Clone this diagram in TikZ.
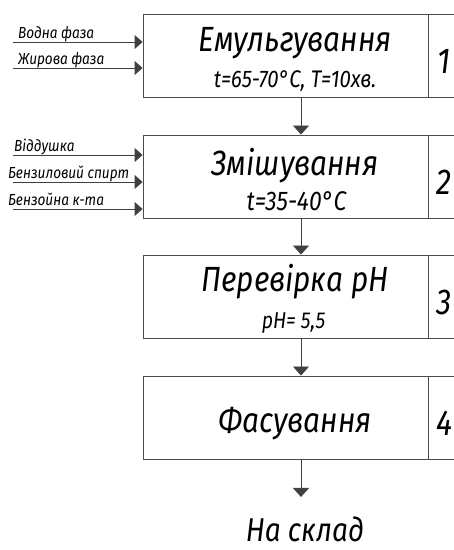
\documentclass[tikz,border=0pt]{standalone}
\usepackage{fontspec}
\setmainfont{Fira Sans Italic}[FakeStretch=0.85]
\usetikzlibrary{arrows.meta,positioning,calc}

\begin{document}
\begin{tikzpicture}[x=1pt,y=1pt,
  stage/.style={draw=black!70,line width=0.9pt,minimum width=285pt,minimum height=83pt,inner sep=0pt},
  cell/.style={draw=black!70,line width=0.9pt,minimum width=31pt,minimum height=83pt,inner sep=0pt,anchor=west},
  num/.style={inner sep=0pt,font=\fontsize{36}{40}\selectfont},
  ttl/.style={anchor=base,inner sep=0pt,font=\fontsize{35}{40}\selectfont},
  sub/.style={anchor=base,inner sep=0pt,font=\fontsize{24}{28}\selectfont},
  lbl/.style={anchor=base west,inner sep=0pt,font=\fontsize{16}{18}\selectfont},
  flow/.style={draw=black!75,line width=0.9pt,-{Triangle[width=16pt,length=9pt]}},
  feed/.style={draw=black!75,line width=0.9pt,-{Triangle[width=14pt,length=8pt]}}]
  \clip (0,0) rectangle (454,550);
  % stages with their numbers
  \foreach \i/\yy in {1/494.5,2/373.5,3/253.5,4/132.5}{
    \node[stage] (b\i) at (285.5,\yy) {};
    \node[cell] (c\i) at (b\i.east) {};
    \node[num] (k\i) at ([yshift=-6]c\i.center) {\i};
  }
  \node[ttl] (t1) at ([xshift=9.5,yshift=-38]b1.north) {Емульгування};
  \node[sub] (s1) at ([xshift=9.5,yshift=-74]b1.north) {t=65-70°C, T=10xв.};
  \node[ttl] (t2) at ([xshift=9.5,yshift=-41]b2.north) {Змішування};
  \node[sub,font=\fontsize{27}{30}\selectfont] (s2) at ([xshift=11,yshift=-76]b2.north) {t=35-40°C};
  \node[ttl] (t3) at ([xshift=9.5,yshift=-37]b3.north) {Перевірка pH};
  \node[sub,font=\fontsize{23}{26}\selectfont] (s3) at ([xshift=8,yshift=-74]b3.north) {pH= 5,5};
  \node[ttl] (t4) at ([xshift=9.5,yshift=-57]b4.north) {Фасування};
  \node[ttl,font=\fontsize{33}{36}\selectfont] (sklad) at (305,9) {На склад};
  % flow between stages
  \foreach \a/\b in {1/2,2/3,3/4}
    \draw[flow] ([xshift=15.5]b\a.south) -- ([xshift=15.5]b\b.north);
  \coordinate (out) at (301,53);
  \draw[flow] (out |- b4.south) -- (out);
  % inputs
  \coordinate (w1) at (13,508);
  \coordinate (w2) at (13,482);
  \coordinate (w3) at (13,395);
  \coordinate (w4) at (13,368);
  \coordinate (w5) at (13,341);
  \foreach \w/\b in {1/1,2/1,3/2,4/2,5/2}
    \draw[feed] (w\w) -- (w\w -| b\b.west);
  \node[lbl] (l1) at (18,511) {Водна фаза};
  \node[lbl] (l2) at (18,485) {Жирова фаза};
  \node[lbl] (l3) at (14,398) {Віддушка};
  \node[lbl] (l4) at (8,371) {Бензиловий спирт};
  \node[lbl] (l5) at (8,344) {Бензойна к-та};
\end{tikzpicture}
\end{document}
